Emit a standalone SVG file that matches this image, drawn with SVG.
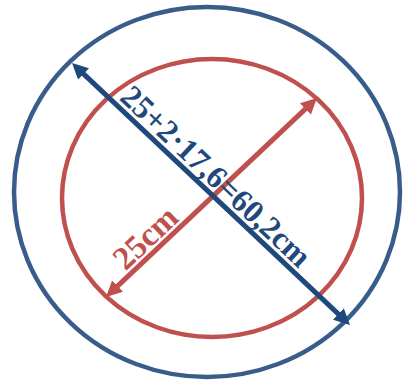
<svg xmlns="http://www.w3.org/2000/svg" width="403" height="382" viewBox="0 0 403 382">
<style>
.ring{fill:none;stroke-width:4.5}
.lbl{font-family:"Liberation Serif","Times New Roman",serif;font-weight:bold}
</style>
<defs>
<marker id="hb" viewBox="0 0 16 16" refX="6" refY="8" markerWidth="16" markerHeight="16" markerUnits="userSpaceOnUse" orient="auto-start-reverse"><path d="M0,0 L16,8 L0,16 z" fill="#1f497d"/></marker>
<marker id="hr" viewBox="0 0 16 16" refX="6" refY="8" markerWidth="16" markerHeight="16" markerUnits="userSpaceOnUse" orient="auto-start-reverse"><path d="M0,0 L16,8 L0,16 z" fill="#c0504d"/></marker>
</defs>
<g id="outer"><ellipse class="ring" cx="207" cy="192" rx="193" ry="185" stroke="#385d8a"/></g>
<g id="inner"><ellipse class="ring" cx="212" cy="198" rx="150" ry="139" stroke="#c0504d"/></g>
<g id="connectors">
<line x1="113.3" y1="290.1" x2="309.7" y2="104.9" stroke="#c0504d" stroke-width="5" marker-start="url(#hr)" marker-end="url(#hr)"/>
<line x1="79.3" y1="69.9" x2="342.7" y2="318.1" stroke="#1f497d" stroke-width="5" marker-start="url(#hb)" marker-end="url(#hb)"/>
</g>
<g id="labels">
<text class="lbl" font-size="33" fill="#c0504d" transform="translate(125.5,271.5) rotate(-43.3)">25cm</text>
<text class="lbl" font-size="32" fill="#1f497d" transform="translate(118.5,99) rotate(43.3)">25+2·17,6=60,2cm</text>
</g>
</svg>
